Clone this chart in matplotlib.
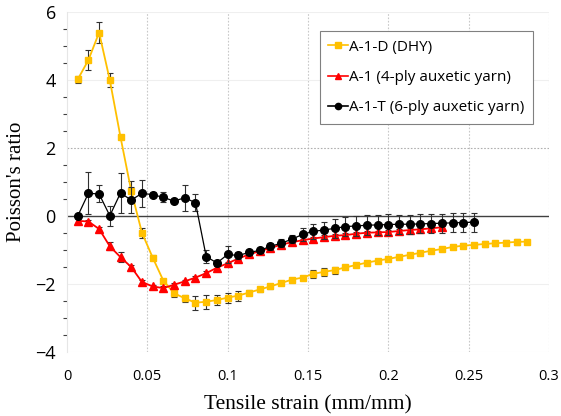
import numpy as np
import matplotlib
matplotlib.use("Agg")
import matplotlib.pyplot as plt
from matplotlib.ticker import MultipleLocator
from matplotlib.lines import Line2D

# strain step between readings
step = 1 / 150.0

# A-1-D (DHY)
dhy_y = [4.02, 4.59, 5.40, 4.00, 2.32, 0.74, -0.49, -1.22, -1.90, -2.27,
         -2.42, -2.55, -2.52, -2.47, -2.40, -2.34, -2.25, -2.16, -2.07, -1.97,
         -1.87, -1.81, -1.70, -1.64, -1.59, -1.51, -1.44, -1.37, -1.31, -1.26,
         -1.20, -1.14, -1.08, -1.02, -0.97, -0.91, -0.87, -0.85, -0.82, -0.80,
         -0.78, -0.76, -0.75]
dhy_err = [0.10, 0.30, 0.30, 0.20, 0.05, 0.30, 0.15, 0.06, 0.06, 0.12,
           0.10, 0.20, 0.20, 0.15, 0.15, 0.15, 0.08, 0.08, 0.08, 0.06,
           0.06, 0.06, 0.12, 0.12, 0.10, 0.04, 0.04, 0.04, 0.04, 0.04,
           0.04, 0.04, 0.04, 0.04, 0.04, 0.06, 0.08, 0.06, 0.10, 0.08,
           0.08, 0.08, 0.06]

# A-1 (4-ply auxetic yarn)
ply4_y = [-0.14, -0.16, -0.38, -0.89, -1.21, -1.50, -1.94, -2.07, -2.12, -2.02,
          -1.92, -1.81, -1.68, -1.52, -1.39, -1.25, -1.13, -1.03, -0.94, -0.84,
          -0.77, -0.71, -0.66, -0.62, -0.58, -0.56, -0.52, -0.49, -0.48, -0.47,
          -0.44, -0.41, -0.39, -0.36, -0.33]
ply4_err = [0.05, 0.05, 0.06, 0.12, 0.15, 0.05, 0.05, 0.05, 0.06, 0.06,
            0.05, 0.05, 0.05, 0.05, 0.05, 0.05, 0.05, 0.05, 0.05, 0.05,
            0.05, 0.05, 0.05, 0.05, 0.05, 0.05, 0.05, 0.05, 0.05, 0.05,
            0.05, 0.05, 0.05, 0.05, 0.05]

# A-1-T (6-ply auxetic yarn)
ply6_y = [0.00, 0.67, 0.65, 0.01, 0.68, 0.47, 0.67, 0.63, 0.55, 0.44,
          0.54, 0.39, -1.19, -1.38, -1.13, -1.16, -1.07, -1.01, -0.89, -0.80,
          -0.68, -0.54, -0.45, -0.41, -0.36, -0.31, -0.29, -0.27, -0.26, -0.25,
          -0.24, -0.24, -0.23, -0.22, -0.21, -0.20, -0.19, -0.18]
ply6_err = [0.03, 0.62, 0.25, 0.30, 0.60, 0.38, 0.40, 0.07, 0.15, 0.05,
            0.38, 0.25, 0.20, 0.08, 0.25, 0.10, 0.08, 0.08, 0.10, 0.12,
            0.12, 0.20, 0.22, 0.25, 0.28, 0.28, 0.30, 0.30, 0.30, 0.30,
            0.28, 0.28, 0.28, 0.28, 0.28, 0.28, 0.28, 0.28]

labels = ["A-1-D (DHY)", "A-1 (4-ply auxetic yarn)", "A-1-T (6-ply auxetic yarn)"]
colors = ["#FFC000", "#FF0000", "black"]
markers = ["s", "^", "o"]

x_dhy = step * np.arange(1, len(dhy_y) + 1)
x_4 = step * np.arange(1, len(ply4_y) + 1)
x_6 = step * np.arange(1, len(ply6_y) + 1)

fig = plt.figure(figsize=(5.61, 4.16), dpi=100)
ax = fig.add_axes([0.1194, 0.1538, 0.859, 0.817])

ax.set_xlim(0, 0.3)
ax.set_ylim(-4, 6)

# gridlines (excel-ish)
for gx in [0.05, 0.1, 0.15, 0.2, 0.25, 0.3]:
    ax.axvline(gx, color="#c8c8c8", lw=0.8, ls=(0, (1.5, 1.5)), zorder=0)
for gy in [-4, -2, 4, 6]:
    ax.axhline(gy, color="#efefef", lw=0.8, zorder=0)
ax.axhline(2, color="#b0b0b0", lw=0.8, ls=(0, (1.5, 1.5)), zorder=0)
ax.axhline(0, color="#404040", lw=1.0, zorder=1)

eb = dict(ecolor="#303030", elinewidth=0.8, capsize=2, capthick=0.8)
ax.errorbar(x_dhy, dhy_y, yerr=dhy_err, color=colors[0], marker=markers[0], ms=5,
            lw=1.3, zorder=3, **eb)
ax.errorbar(x_4, ply4_y, yerr=ply4_err, color=colors[1], marker=markers[1], ms=5.5,
            lw=1.3, zorder=4, **eb)
ax.errorbar(x_6, ply6_y, yerr=ply6_err, color=colors[2], marker=markers[2], ms=5.5,
            lw=0.9, zorder=5, **eb)

for s in ["top", "right", "bottom"]:
    ax.spines[s].set_visible(False)
ax.spines["left"].set_color("#e6e6e6")

ax.set_xticks([0, 0.05, 0.1, 0.15, 0.2, 0.25, 0.3])
ax.set_xticklabels(["0", "0.05", "0.1", "0.15", "0.2", "0.25", "0.3"])
ax.set_yticks([-4, -2, 0, 2, 4, 6])
ax.yaxis.set_minor_locator(MultipleLocator(0.5))
ax.tick_params(axis="x", length=0, labelsize=10.5, pad=12)
ax.tick_params(axis="y", which="major", length=0, labelsize=13, pad=8)
ax.tick_params(axis="y", which="minor", length=3, width=0.8, color="#404040")
for t in ax.get_xticklabels() + ax.get_yticklabels():
    t.set_family("Open Sans")

ax.set_xlabel("Tensile strain (mm/mm)", family="Liberation Serif", fontsize=15.5, labelpad=8)
ax.set_ylabel("Poisson's ratio", family="Liberation Serif", fontsize=15, labelpad=7)

handles = [Line2D([], [], color=c, marker=m, ms=4.5, lw=1.2) for c, m in zip(colors, markers)]
leg = ax.legend(handles, labels, loc="upper right", bbox_to_anchor=(0.967, 0.944),
                prop={"family": "Open Sans", "size": 11},
                handlelength=1.3, handletextpad=0.1, labelspacing=1.0, borderpad=0.55,
                borderaxespad=0, fancybox=False, framealpha=1, edgecolor="#808080")
leg.get_frame().set_linewidth(0.8)

fig.savefig("out.png", dpi=100)
